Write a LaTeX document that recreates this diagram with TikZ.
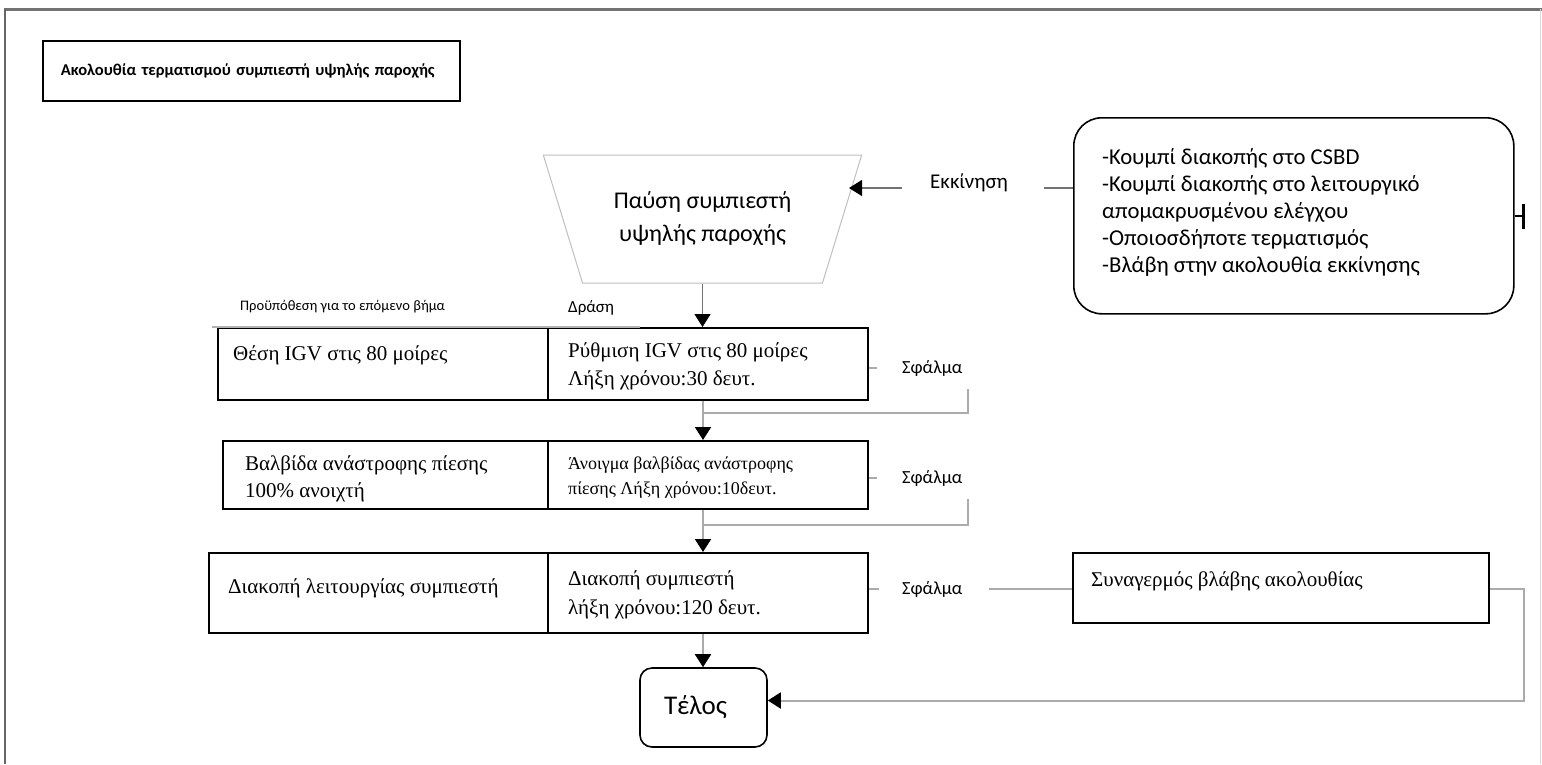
\documentclass[tikz,border=0pt]{standalone}
\usepackage{fontspec}
\setmainfont{Liberation Serif}
\newfontfamily\calibri{Carlito}
\usetikzlibrary{arrows.meta,shapes.geometric}
\tikzset{
	cell/.style={draw,line width=1.6pt,rectangle,inner sep=0pt,anchor=north west},
	tnr/.style={font=\fontsize{21}{28}\selectfont,inner sep=0pt,anchor=base west,align=left},
	cal/.style={font=\calibri\fontsize{18.5}{27}\selectfont,inner sep=0pt,anchor=base west,align=left},
	gline/.style={draw=black!33,line width=2pt},
	dline/.style={draw=black!55,line width=1.3pt},
	tip/.style={-{Triangle[length=13pt,width=16pt,color=black]}}
}

\begin{document}
\begin{tikzpicture}[x=1pt,y=-1pt]
	\useasboundingbox (0,0) rectangle (1542,764);
	% frame
	\draw[black!55,line width=3pt] (4,9) -- (1542,9);
	\draw[black!60,line width=1.5pt] (5,9) -- (5,764);
	\draw[black!15,line width=1pt] (1540,9) -- (1540,764);

	\node[cell,minimum width=417pt,minimum height=60pt,inner xsep=18pt,text width=381pt,align=left,
		font=\calibri\bfseries\fontsize{16.5}{20}\selectfont] (title) at (42,40)
		{Ακολουθία τερματισμού συμπιεστή υψηλής παροχής};

	% start
	\node[trapezium,shape border rotate=180,trapezium stretches=true,
		minimum width=319pt,minimum height=128pt,
		trapezium left angle=63.6,trapezium right angle=63.6,
		draw=black!25,line width=1pt,align=center,
		font=\calibri\fontsize{24}{33}\selectfont] (pause) at (702.5,219)
		{Παύση συμπιεστή\\υψηλής παροχής};
	\node[draw,line width=1.6pt,rounded corners=28pt,minimum width=440pt,minimum height=196pt,anchor=north west] (cond) at (1073,117) {};
	\node[cal,font=\calibri\fontsize{22.7}{27}\selectfont] (condtext) at (1102,272) {-Κουμπί διακοπής στο CSBD\\-Κουμπί διακοπής στο λειτουργικό\\απομακρυσμένου ελέγχου\\-Οποιοσδήποτε τερματισμός\\-Βλάβη στην ακολουθία εκκίνησης};
	\node[cal,font=\calibri\fontsize{21}{25}\selectfont] (ekk) at (930,188) {Εκκίνηση};
	\coordinate (tin) at (849,188);

	\node[cal,font=\calibri\fontsize{14.5}{18}\selectfont] (prehead) at (240,310) {Προϋπόθεση για το επόμενο βήμα};
	\node[cal,font=\calibri\fontsize{17}{20}\selectfont] (acthead) at (568,312) {Δράση};

	% steps
	\node[cell,minimum width=330pt,minimum height=72pt] (r1a) at (217,327) {};
	\node[cell,minimum width=320pt,minimum height=72pt] (r1b) at (547,327) {};
	\node[cell,minimum width=325pt,minimum height=68pt] (r2a) at (222,440) {};
	\node[cell,minimum width=320pt,minimum height=68pt] (r2b) at (547,440) {};
	\node[cell,minimum width=339pt,minimum height=80pt] (r3a) at (208,552) {};
	\node[cell,minimum width=320pt,minimum height=80pt] (r3b) at (547,552) {};
	\draw[white,line width=2.5pt] ([xshift=1]r1a.north west) -- ([xshift=93]r1b.north west);
	\draw[black!30,line width=1.2pt] ([xshift=-5]r1a.north west) -- ([xshift=93]r1b.north west);

	\node[tnr] (t1a) at (233,360) {Θέση IGV στις 80 μοίρες};
	\node[tnr] (t1b) at (568,385) {Ρύθμιση IGV στις 80 μοίρες\\Λήξη χρόνου:30 δευτ.};
	\node[tnr,font=\fontsize{21}{27}\selectfont] (t2a) at (245,497) {Βαλβίδα ανάστροφης πίεσης\\100\% ανοιχτή};
	\node[tnr,font=\fontsize{18}{25}\selectfont] (t2b) at (568,494) {Άνοιγμα βαλβίδας ανάστροφης\\πίεσης Λήξη χρόνου:10δευτ.};
	\node[tnr] (t3a) at (228,593) {Διακοπή λειτουργίας συμπιεστή};
	\node[tnr,font=\fontsize{21}{29}\selectfont] (t3b) at (568,614) {Διακοπή συμπιεστή\\λήξη χρόνου:120 δευτ.};

	\node[cal] (s1) at (902,373) {Σφάλμα};
	\node[cal] (s2) at (902,483) {Σφάλμα};
	\node[cal] (s3) at (902,594) {Σφάλμα};

	\node[cell,minimum width=416pt,minimum height=70pt] (alarm) at (1072,552) {};
	\node[tnr] (talarm) at (1091,586) {Συναγερμός βλάβης ακολουθίας};

	\node[draw,line width=1.6pt,rounded corners=12pt,minimum width=127pt,minimum height=79pt,
		text width=79pt,align=left,inner xsep=0pt,
		font=\calibri\fontsize{27}{30}\selectfont] (end) at (703.5,707.5) {Τέλος};

	\coordinate (ret1) at (968,389);
	\coordinate (j1) at (703,413);
	\coordinate (ret2) at (968,499);
	\coordinate (j2) at (703,525);

	% connectors
	\draw[dline] (cond.west |- tin) -- ++(-29,0);
	\draw[dline,tip] (tin -| ekk.west) ++(-28,0) -- (tin);
	\draw[line width=1.6pt] (cond.east) -- ++(9,0);
	\draw[line width=3.5pt] ([xshift=9]cond.east) ++(0,-12) -- ++(0,25);
	\draw[dline,tip] (pause.south) -- (pause.south |- r1b.north);

	\draw[gline] (r1b.east |- s1) -- ++(8,0);
	\draw[gline] (ret1) |- (j1);
	\draw[gline,tip] (r1b.south -| j1) -- (r2b.north -| j1);
	\draw[gline] (r2b.east |- s2) -- ++(8,0);
	\draw[gline] (ret2) |- (j2);
	\draw[gline,tip] (r2b.south -| j2) -- (r3b.north -| j2);
	\draw[gline,tip] (r3b.south -| j2) -- (end.north -| j2);

	\draw[gline] (r3b.east |- s3) -- ++(10,0);
	\draw[gline] ([xshift=26]s3.east) -- (alarm.west |- s3);
	\draw[gline,tip] (alarm.east |- s3) -- ++(34,0) |- ([yshift=7]end.east);
\end{tikzpicture}
\end{document}
